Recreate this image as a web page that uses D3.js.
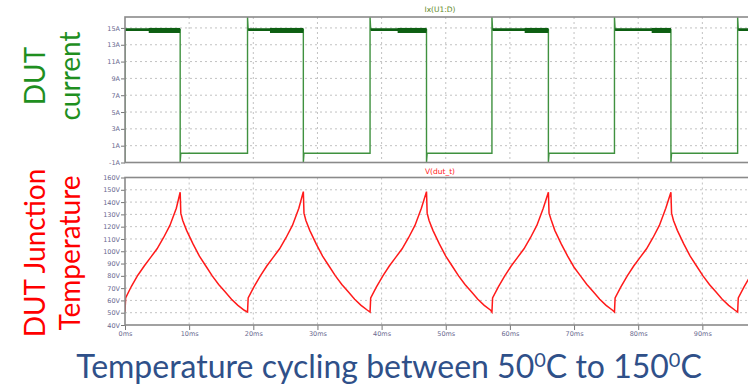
<!DOCTYPE html>
<head>
<meta charset="utf-8">
<style>
  body { margin: 0; background: #fff; }
  svg { display: block; }
  .frame { fill: none; stroke: #8a8a8a; stroke-width: 1.6px; }
  .grid line { stroke: #c2c2c2; stroke-dasharray: 2,3; }
  .axis path { display: none; }
  .axis line { stroke: #777; }
  .axis text { font: 6.5px "DejaVu Sans", sans-serif; fill: #6a6a90; }
  .side { font-family: Lato, sans-serif; font-size: 28px; }
</style>
</head>
<body>
<svg width="748" height="386"></svg>
<script src="https://cdn.jsdelivr.net/npm/d3@7/dist/d3.min.js"></script>
<script>
// time ticks (ms)
var timeTicks = [0, 10, 20, 30, 40, 50, 60, 70, 80, 90];
var currentTicks = [-1, 1, 3, 5, 7, 9, 11, 13, 15];
var tempTicks = [40, 50, 60, 70, 80, 90, 100, 110, 120, 130, 140, 150, 160];

// Ix(U1:D) [ms, A]
var current = [
  [0, -1], [0, 14.8], [8.6, 14.8], [8.6, -1], [8.7, 0.1], [19.1, 0.1],
  [19.1, 16.3], [19.2, 14.8], [27.8, 14.8], [27.8, -1], [27.9, 0.1], [38.2, 0.1],
  [38.2, 16.3], [38.3, 14.8], [47.0, 14.8], [47.0, -1], [47.1, 0.1], [57.2, 0.1],
  [57.2, 16.3], [57.3, 14.8], [66.0, 14.8], [66.0, -1], [66.1, 0.1], [76.3, 0.1],
  [76.3, 16.3], [76.4, 14.8], [85.1, 14.8], [85.1, -1], [85.2, 0.1], [95.5, 0.1],
  [95.5, 16.3], [95.6, 14.8], [100, 14.8]
];
// ripple bands on the on-state current [start ms, end ms]
var ripple = [[3.7, 8.6], [22.6, 27.8], [42.5, 47.0], [62.3, 66.0], [82.1, 85.1]];

// junction temperature [ms, degC]
var junctionTemp = [
  [0, 50.8], [0.1, 62], [1, 71.5], [2, 80.5], [3, 88], [4, 95], [5, 102], [6, 111], [7, 121], [8, 135], [8.6, 148],
  [8.7, 131], [9, 125], [9.6, 117], [10.6, 106], [11.6, 96], [12.6, 88], [13.6, 80], [14.6, 73], [15.6, 67], [16.6, 61], [17.6, 56], [18.6, 52], [19.1, 50.5],
  [19.2, 62], [20.1, 71], [21.1, 80], [22.1, 88], [23.1, 95], [24.1, 102], [25.1, 111], [26.1, 121], [27.1, 135], [27.8, 148.5],
  [27.9, 131], [28.2, 125], [28.8, 117], [29.8, 106], [30.8, 96], [31.8, 88], [32.8, 80], [33.8, 73], [34.8, 67], [35.8, 61], [36.8, 56], [37.8, 52], [38.2, 50.5],
  [38.3, 62], [39.2, 71], [40.2, 80], [41.2, 88], [42.2, 95], [43.2, 102], [44.2, 111], [45.2, 121], [46.2, 135], [47.0, 148.5],
  [47.1, 131], [47.4, 125], [48, 117], [49, 106], [50, 96], [51, 88], [52, 80], [53, 73], [54, 67], [55, 61], [56, 56], [57, 52], [57.2, 50.5],
  [57.3, 62], [58.2, 71], [59.2, 80], [60.2, 88], [61.2, 95], [62.2, 102], [63.2, 111], [64.2, 121], [65.2, 135], [66.0, 148],
  [66.1, 131], [66.4, 126], [67, 117], [68, 106], [69, 96], [70, 87], [71, 80], [72, 73], [73, 67], [74, 61], [75, 56], [76, 52], [76.3, 50.5],
  [76.4, 62], [77.3, 71], [78.3, 80], [79.3, 88], [80.3, 95], [81.3, 102], [82.3, 111], [83.3, 121], [84.3, 135], [85.1, 148],
  [85.2, 131], [85.5, 125], [86.1, 117], [87.1, 106], [88.1, 96], [89.1, 88], [90.1, 80], [91.1, 73], [92.1, 67], [93.1, 61], [94.1, 56], [95.1, 52], [95.5, 50.5],
  [95.6, 62], [96.5, 71], [97.5, 80], [98.5, 88]
];

var svg = d3.select("svg");

var x = d3.scaleLinear().domain([0, 100]).range([125, 766.5]);
var yI = d3.scaleLinear().domain([-1, 16.3]).range([162.5, 17]);
var yT = d3.scaleLinear().domain([40, 160]).range([325, 177.5]);

var defs = svg.append("defs");
defs.append("clipPath").attr("id", "clipTop")
  .append("rect").attr("x", 125).attr("y", 16).attr("width", 640).attr("height", 148);
defs.append("clipPath").attr("id", "clipBot")
  .append("rect").attr("x", 125).attr("y", 176).attr("width", 640).attr("height", 150);

function panel(y, yTicks, fmt, clip, withX) {
  var g = svg.append("g");
  var y0 = y.range()[0], y1 = y.range()[1];
  var inner = yTicks.filter(function(d) { return y(d) < y0 - 1 && y(d) > y1 + 1; });
  var grid = g.append("g").attr("class", "grid");
  grid.selectAll(".gy").data(inner)
    .enter().append("line")
    .attr("x1", 125).attr("x2", 766)
    .attr("y1", function(d) { return y(d); }).attr("y2", function(d) { return y(d); });
  grid.selectAll(".gx").data(timeTicks.slice(1))
    .enter().append("line")
    .attr("x1", function(d) { return x(d); }).attr("x2", function(d) { return x(d); })
    .attr("y1", y1).attr("y2", y0);

  g.append("g").attr("class", "axis")
    .attr("transform", "translate(125,0)")
    .call(d3.axisLeft(y).tickValues(yTicks).tickSize(4).tickPadding(1).tickFormat(fmt));

  if (withX) {
    g.append("g").attr("class", "axis")
      .attr("transform", "translate(0," + y0 + ")")
      .call(d3.axisBottom(x).tickValues(timeTicks).tickSize(5).tickPadding(1)
        .tickFormat(function(d) { return d + "ms"; }));
  }
  var plot = g.append("g").attr("clip-path", "url(#" + clip + ")");
  g.append("rect").attr("class", "frame")
    .attr("x", 125).attr("y", y1).attr("width", 660).attr("height", y0 - y1);
  return plot;
}

var topPlot = panel(yI, currentTicks, function(d) { return d + "A"; }, "clipTop", false);
var botPlot = panel(yT, tempTicks, function(d) { return d + "V"; }, "clipBot", true);

var lineI = d3.line()
  .x(function(d) { return x(d[0]); })
  .y(function(d) { return yI(d[1]); });

topPlot.append("path").datum(current)
  .attr("d", lineI)
  .attr("fill", "none").attr("stroke", "#3f913f").attr("stroke-width", 1.4);

topPlot.append("path").datum(current)
  .attr("d", d3.line()
    .defined(function(d) { return d[1] > 10 && d[1] < 16; })
    .x(function(d) { return x(d[0]); })
    .y(function(d) { return yI(d[1]); }))
  .attr("fill", "none").attr("stroke", "#0d5f12").attr("stroke-width", 2.6);

topPlot.selectAll(".ripple").data(ripple).enter().append("rect")
  .attr("x", function(d) { return x(d[0]); })
  .attr("width", function(d) { return x(d[1]) - x(d[0]); })
  .attr("y", yI(15.0)).attr("height", yI(14.4) - yI(15.0))
  .attr("fill", "#0d5f12");

botPlot.append("path").datum(junctionTemp)
  .attr("d", d3.line()
    .x(function(d) { return x(d[0]); })
    .y(function(d) { return yT(d[1]); }))
  .attr("fill", "none").attr("stroke", "#ff1a1a").attr("stroke-width", 1.5);

// trace names
svg.append("text").attr("x", 440).attr("y", 12).attr("text-anchor", "middle")
  .style("font", "7.5px 'DejaVu Sans', sans-serif").attr("fill", "#5f8a2a").text("Ix(U1:D)");
svg.append("text").attr("x", 440).attr("y", 174).attr("text-anchor", "middle")
  .style("font", "7.5px 'DejaVu Sans', sans-serif").attr("fill", "#ff2020").text("V(dut_t)");

// side labels
function side(lines, cy, color) {
  var t = svg.append("text").attr("class", "side")
    .attr("transform", "rotate(-90)").attr("text-anchor", "middle").attr("fill", color);
  lines.forEach(function(l) {
    t.append("tspan").attr("x", -cy).attr("y", l[1]).text(l[0]);
  });
}
side([["DUT", 45], ["current", 80]], 76, "#1f8f1f");
side([["DUT Junction", 45], ["Temperature", 80]], 253, "#ff0000");

// caption
var cap = svg.append("text").attr("x", 389).attr("y", 378).attr("text-anchor", "middle")
  .style("font-family", "Lato, sans-serif").style("font-size", "32px").attr("fill", "#2f5089");
cap.append("tspan").text("Temperature cycling between 50");
cap.append("tspan").attr("dy", -11).style("font-size", "20px").text("0");
cap.append("tspan").attr("dy", 11).text("C to 150");
cap.append("tspan").attr("dy", -11).style("font-size", "20px").text("0");
cap.append("tspan").attr("dy", 11).text("C");
</script>
</body>
